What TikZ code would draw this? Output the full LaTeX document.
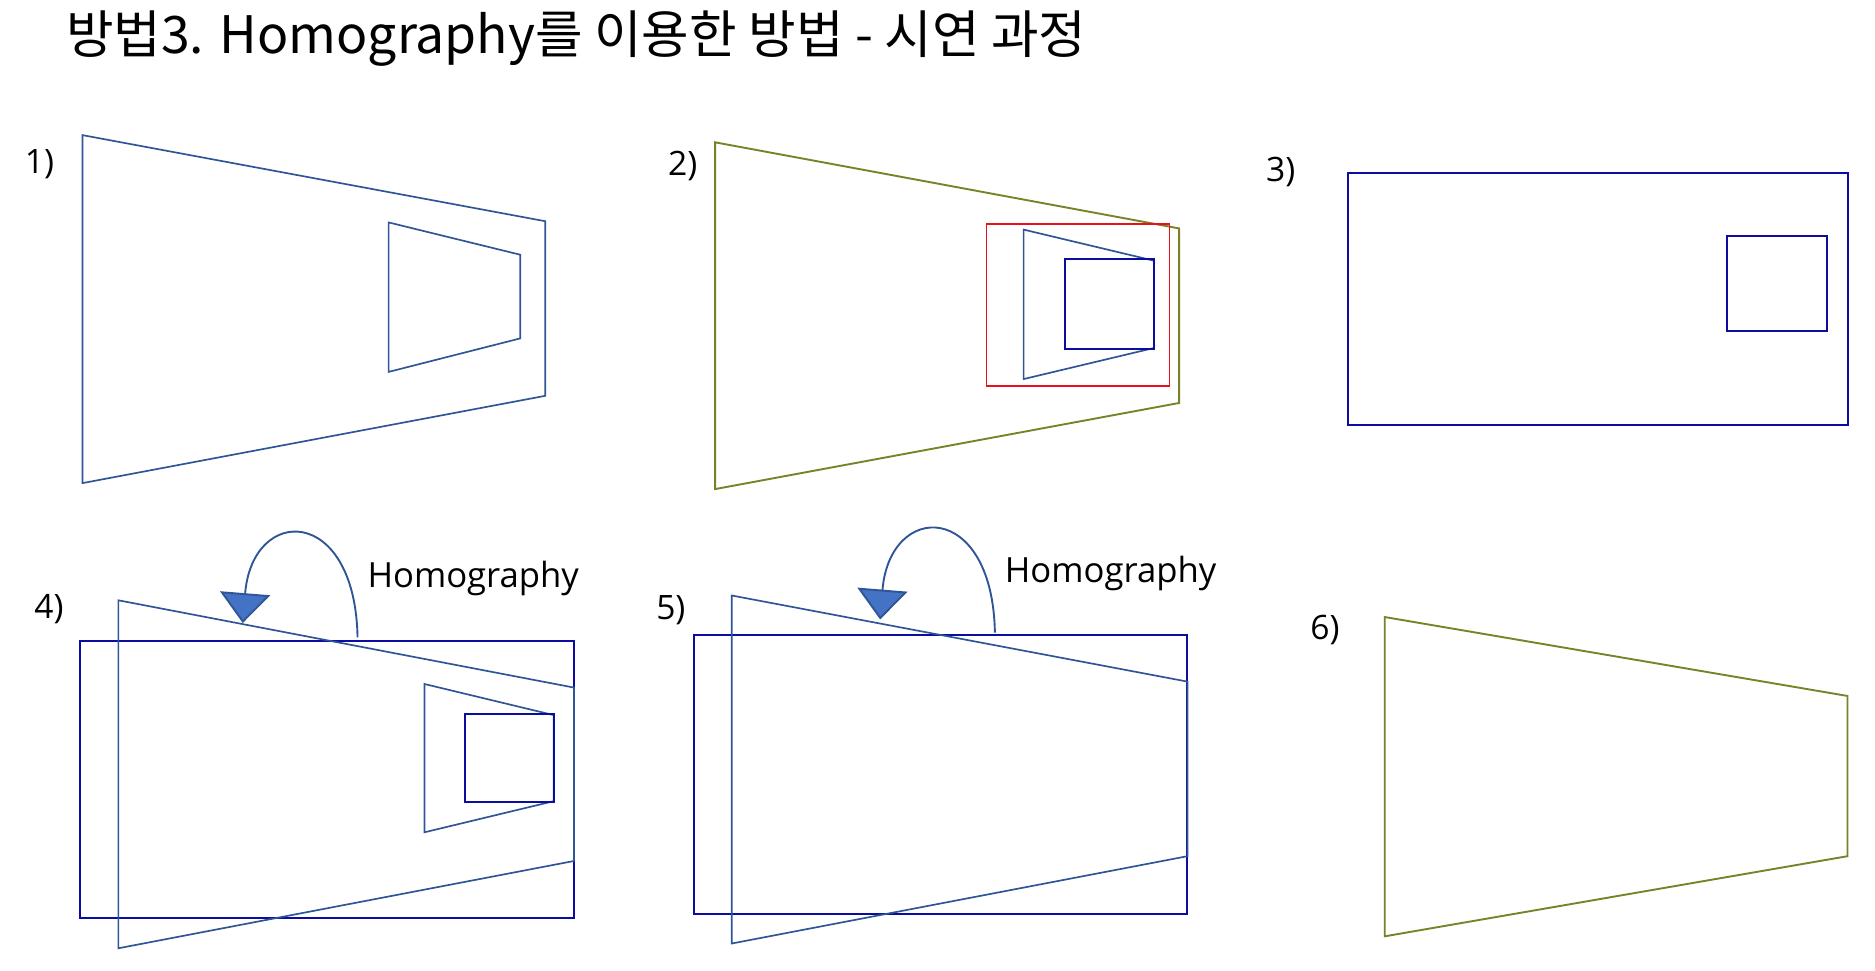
\documentclass[tikz,border=0pt]{standalone}
\usepackage{fontspec}
\setmainfont{Open Sans}
\newfontfamily\krfont{Noto Sans CJK KR}
\usepackage{xcolor}
\usepackage{tikz}
\usetikzlibrary{calc, arrows.meta, positioning}

\definecolor{trapblue}{HTML}{2F5597}
\definecolor{navyblue}{HTML}{0C0CA0}
\definecolor{olivegreen}{HTML}{7A8228}
\definecolor{boxred}{HTML}{E3121B}
\definecolor{arrowfill}{HTML}{4472C4}

\begin{document}
\begin{tikzpicture}[>=stealth, x=0.02cm, y=-0.02cm,
    trapline/.style={draw=trapblue, line width=0.8pt},
    navyline/.style={draw=navyblue, line width=0.95pt},
    oliveline/.style={draw=olivegreen, line width=0.9pt},
    redline/.style={draw=boxred, line width=0.9pt},
    steplabel/.style={inner sep=0pt, font=\fontsize{16}{18}\selectfont},
    homolabel/.style={anchor=west, inner sep=0pt, font=\fontsize{16.5}{19}\selectfont},
    homoarrow/.style={draw=trapblue, line width=0.9pt,
        -{Triangle[length=0.5cm, width=0.84cm, fill=arrowfill]}}]
    \useasboundingbox (0,0) rectangle (1568,812);

    \node[anchor=west, inner sep=0pt, font=\krfont\fontsize{24.6}{28}\selectfont] (title) at (55,32)
        {방법3. Homography를 이용한 방법 - 시연 과정};

    \node[steplabel] (s1) at (33,137) {1)};
    \node[steplabel] (s2) at (571,139) {2)};
    \node[steplabel] (s3) at (1071,144) {3)};
    \node[steplabel] (s4) at (41,509) {4)};
    \node[steplabel] (s5) at (561,510) {5)};
    \node[steplabel] (s6) at (1108,527) {6)};

    \draw[trapline] (69,113) -- (456,185) -- (456,331) -- (69,404) -- cycle;
    \draw[trapline] (325,186) -- (435,213) -- (435,283) -- (325,311) -- cycle;

    \draw[oliveline] (598,119) -- (986,191) -- (986,337) -- (598,409) -- cycle;
    \draw[redline] (825,187) rectangle (978,323);
    \draw[trapline] (856,192) -- (965,218) -- (965,291) -- (856,317) -- cycle;
    \draw[navyline] (891,217) rectangle (965,292);

    \draw[navyline] (1127,145) rectangle (1545,355);
    \draw[navyline] (1444,197) rectangle (1528,277);

    \draw[navyline] (67,536) rectangle (480,768);
    \draw[trapline] (99,502) -- (480,575) -- (480,720) -- (99,793) -- cycle;
    \draw[trapline] (355,572) -- (463,598) -- (463,670) -- (355,696) -- cycle;
    \draw[navyline] (389,597) rectangle (463,671);

    \draw[navyline] (580,531) rectangle (993,764);
    \draw[trapline] (612,498) -- (993,570) -- (993,716) -- (612,789) -- cycle;

    \draw[oliveline] (1158,516) -- (1545,582) -- (1545,716) -- (1158,783) -- cycle;

    \coordinate (hs4) at (299,533);
    \coordinate (ht4) at (203,521);
    \coordinate (hs5) at (832,529);
    \coordinate (ht5) at (736,518);
    \draw[homoarrow] (hs4) .. controls ($(hs4)+(-2,-111)$) and ($(ht4)+(8,-99)$) .. (ht4);
    \draw[homoarrow] (hs5) .. controls ($(hs5)+(-2,-111)$) and ($(ht5)+(8,-99)$) .. (ht5);
    \node[homolabel] (h4) at (307,484) {Homography};
    \node[homolabel] (h5) at (840,480) {Homography};
\end{tikzpicture}
\end{document}
